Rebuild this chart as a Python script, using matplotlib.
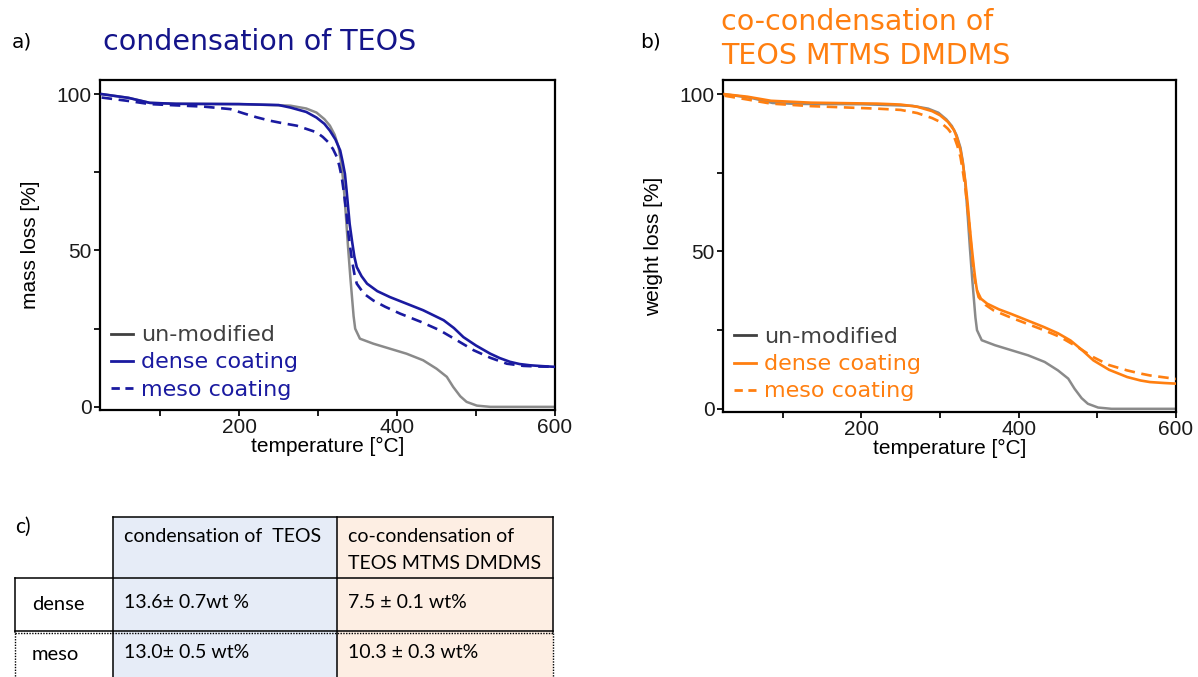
import matplotlib
matplotlib.use("Agg")
from matplotlib import pyplot as plt
from matplotlib.lines import Line2D
from matplotlib.patches import Rectangle

# un-modified particles (same curve in both panels)
temp_plain = [26, 60, 87, 120, 200, 265, 285, 298, 308, 315, 321, 326, 329, 332, 335, 338, 341, 343, 345, 347,
              353, 370, 391, 412, 433, 450, 463, 471, 480, 488, 501, 518, 600]
mass_plain = [100, 98.8, 97.2, 96.9, 96.8, 96.3, 95.4, 94.1, 92.0, 89.9, 87.0, 83.0, 78.5, 72.0, 62.0, 51.0, 41.0,
              35.0, 29.0, 25.0, 21.8, 20.2, 18.6, 17.0, 14.9, 12.2, 9.6, 6.4, 3.4, 1.6, 0.4, 0.0, 0.0]

# condensation of TEOS
temp_a_dense = [26, 60, 87, 120, 200, 250, 265, 285, 298, 308, 315, 322, 328, 331, 334, 336, 338, 340, 343, 346,
                349, 355, 362, 375, 391, 412, 433, 459, 472, 484, 500, 518, 530, 543, 555, 568, 585, 600]
mass_a_dense = [100, 98.8, 97.2, 96.9, 96.8, 96.5, 95.7, 94.3, 92.5, 90.5, 88.3, 85.5, 82.0, 78.5, 74.5, 69.5,
                64.0, 58.5, 53.0, 48.0, 44.7, 41.8, 39.4, 37.0, 35.1, 33.0, 30.9, 27.7, 25.2, 22.3, 19.6, 17.0,
                15.6, 14.4, 13.7, 13.3, 13.0, 12.8]
temp_a_meso = [26, 60, 87, 120, 155, 189, 205, 222, 239, 255, 273, 298, 306, 313, 319, 324, 327, 330, 333, 336,
               339, 343, 346, 349, 358, 370, 385, 404, 430, 454, 475, 497, 518, 539, 560, 580, 600]
mass_a_meso = [98.9, 97.8, 96.8, 96.4, 96.0, 95.2, 93.9, 92.6, 91.5, 90.7, 89.9, 87.8, 86.3, 84.6, 82.4, 79.8,
               77.0, 73.4, 68.0, 61.7, 54.0, 46.8, 42.5, 39.4, 36.2, 34.0, 32.0, 29.8, 27.2, 24.5, 21.4, 18.1,
               15.7, 13.8, 13.1, 12.9, 12.8]

# co-condensation of TEOS MTMS DMDMS
temp_b_dense = [26, 55, 85, 136, 220, 250, 271, 290, 300, 310, 318, 322, 326, 329, 332, 335, 337, 340, 343, 345,
                347, 352, 360, 375, 390, 410, 432, 450, 466, 480, 495, 515, 538, 555, 567, 585, 600]
mass_b_dense = [100, 99.2, 97.9, 97.3, 97.0, 96.7, 96.0, 94.6, 93.3, 91.2, 88.5, 85.8, 82.2, 78.0, 72.6, 65.5,
                59.9, 52.0, 45.0, 40.8, 37.6, 35.0, 33.4, 31.6, 30.2, 28.2, 26.0, 24.0, 21.7, 18.8, 15.4, 12.4,
                10.1, 9.0, 8.5, 8.2, 8.0]
temp_b_meso = [26, 55, 85, 136, 220, 250, 271, 290, 300, 310, 318, 322, 326, 329, 332, 335, 337, 340, 343, 346,
               349, 358, 368, 390, 411, 432, 453, 475, 495, 515, 538, 555, 567, 585, 600]
mass_b_meso = [99.5, 98.3, 97.0, 96.2, 95.4, 95.0, 94.0, 92.4, 91.2, 89.0, 86.4, 83.6, 80.0, 75.5, 70.5, 63.5,
               58.9, 50.5, 43.0, 38.6, 35.5, 33.0, 31.3, 29.0, 27.0, 25.0, 22.8, 19.6, 16.4, 13.9, 12.2, 11.2,
               10.6, 10.0, 9.5]

legend_labels = ["un-modified", "dense coating", "meso coating"]
x_ticks = [100, 200, 300, 400, 500, 600]
x_tick_labels = ["", "200", "", "400", "", "600"]
y_ticks = [0, 25, 50, 75, 100]
y_tick_labels = ["0", "", "50", "", "100"]

# table c)
col_headers = ["condensation of  TEOS", "co-condensation of\nTEOS MTMS DMDMS"]
row_headers = ["dense", "meso"]
cell_text = [["13.6\u00b1 0.7wt %", "7.5 \u00b1 0.1 wt%"],
             ["13.0\u00b1 0.5 wt%", "10.3 \u00b1 0.3 wt%"]]

BLUE = "#1a1aa0"
TITLE_BLUE = "#14148a"
ORANGE = "#ff7f10"
GRAY = "#8a8a8a"
DARK = "#404040"
ARIAL = ["Liberation Sans", "DejaVu Sans"]

fig = plt.figure(figsize=(11.98, 6.77), dpi=100)


def tga_panel(rect, dense, meso, color, ylabel):
    ax = fig.add_axes(rect)
    ax.plot(temp_plain, mass_plain, color=GRAY, lw=1.8, zorder=2)
    ax.plot(dense[0], dense[1], color=color, lw=1.9, zorder=4)
    ax.plot(meso[0], meso[1], color=color, lw=1.9, ls=(0, (4, 2.5)), zorder=3)
    ax.set_xlim(24, 600)
    ax.set_ylim(-1, 104.5)
    ax.set_xticks(x_ticks)
    ax.set_xticklabels(x_tick_labels, family=ARIAL, fontsize=15)
    ax.set_yticks(y_ticks)
    ax.set_yticklabels(y_tick_labels, family=ARIAL, fontsize=15)
    ax.tick_params(direction="out", length=4, width=1.4, pad=2, colors="#1a1a1a")
    for s in ax.spines.values():
        s.set_linewidth(1.6)
    ax.set_xlabel("temperature [\u00b0C]", fontsize=15, family=ARIAL, labelpad=0)
    ax.set_ylabel(ylabel, fontsize=15, family=ARIAL, labelpad=12)
    handles = [Line2D([], [], color=DARK, lw=2),
               Line2D([], [], color=color, lw=2),
               Line2D([], [], color=color, lw=2, ls=(0, (3, 2)))]
    ax.legend(handles, legend_labels, loc="lower left", bbox_to_anchor=(-0.008, -0.012),
              frameon=False, fontsize=16, handlelength=1.0, handletextpad=0.35,
              labelspacing=0.32, labelcolor=[DARK, color, color], borderaxespad=0.25)
    return ax


ax_a = tga_panel([0.0835, 0.3944, 0.3798, 0.4874],
                 (temp_a_dense, mass_a_dense), (temp_a_meso, mass_a_meso), BLUE, "mass loss [%]")
ax_b = tga_panel([0.6035, 0.3915, 0.3781, 0.4903],
                 (temp_b_dense, mass_b_dense), (temp_b_meso, mass_b_meso), ORANGE, "weight loss [%]")

fig.text(12 / 1198, 1 - 42 / 677, "a)", fontsize=14.5, va="center")
fig.text(103 / 1198, 1 - 42 / 677, "condensation of TEOS", fontsize=20.5, color=TITLE_BLUE, va="center")
fig.text(640 / 1198, 1 - 42 / 677, "b)", fontsize=14.5, va="center")
fig.text(721 / 1198, 1 - 39 / 677, "co-condensation of\nTEOS MTMS DMDMS", fontsize=20.5, color=ORANGE,
         va="center", linespacing=1.25)

# table drawn in pixel coordinates
tab = fig.add_axes([0, 0, 1, 1], zorder=-1)
tab.set_xlim(0, 1198)
tab.set_ylim(677, 0)
tab.axis("off")

col_x = [15, 113, 337, 553]
row_y = [517, 578, 632, 690]
fills = ["#e6ecf7", "#fdeee3"]
tfont = ["Lato", "DejaVu Sans"]

for j in range(2):
    tab.add_patch(Rectangle((col_x[j + 1], row_y[0]), col_x[j + 2] - col_x[j + 1], row_y[3] - row_y[0],
                            facecolor=fills[j], edgecolor="none"))
k = dict(color="black", lw=1.1)
tab.plot([col_x[1], col_x[3]], [row_y[0], row_y[0]], **k)
tab.plot([col_x[1], col_x[1]], [row_y[0], row_y[3]], **k)
tab.plot([col_x[2], col_x[2]], [row_y[0], row_y[3]], **k)
tab.plot([col_x[3], col_x[3]], [row_y[0], row_y[2]], **k)
tab.plot([col_x[0], col_x[3]], [row_y[1], row_y[1]], **k)
tab.plot([col_x[0], col_x[0]], [row_y[1], row_y[2]], **k)
tab.plot([col_x[0], col_x[3]], [row_y[2] - 1, row_y[2] - 1], **k)
d = dict(color="black", lw=1.0, ls=(0, (1, 1)))
tab.plot([col_x[0], col_x[3]], [row_y[2] + 1, row_y[2] + 1], **d)
tab.plot([col_x[0], col_x[0]], [row_y[2] + 1, 677], **d)
tab.plot([col_x[3], col_x[3]], [row_y[2] + 1, 677], **d)

tab.text(15, 527, "c)", fontsize=15, family=tfont, va="center")
tab.text(col_x[1] + 11, 536, col_headers[0], fontsize=14, family=tfont, va="center")
tab.text(col_x[2] + 11, 550, col_headers[1], fontsize=14, family=tfont, va="center", linespacing=1.7)
row_text_y = [602, 652]
for i in range(2):
    tab.text(col_x[0] + 17, row_text_y[i] + 2, row_headers[i], fontsize=14.5, family=tfont, va="center")
    for j in range(2):
        tab.text(col_x[j + 1] + 11, row_text_y[i], cell_text[i][j], fontsize=14, family=tfont, va="center")

fig.savefig("out.png", dpi=100)
